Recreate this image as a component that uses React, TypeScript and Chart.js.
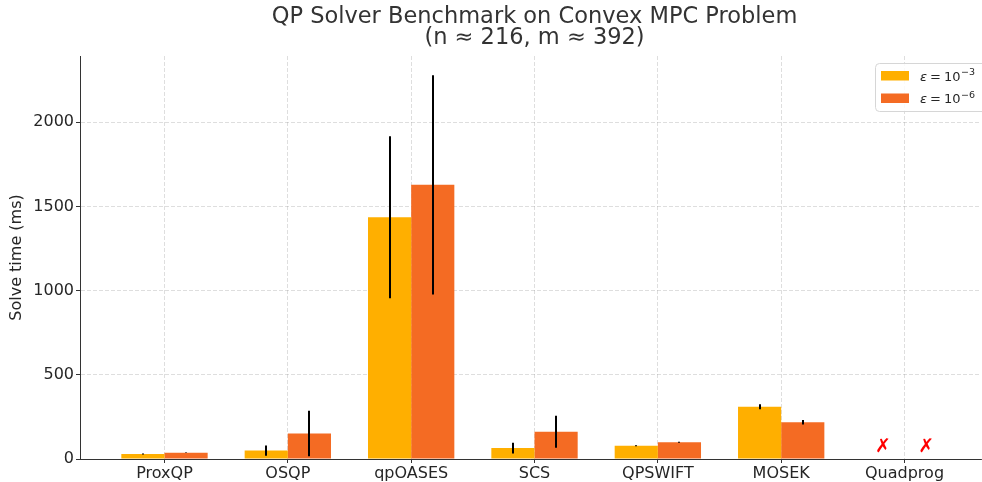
import { useEffect, useRef } from 'react';
import { Chart, registerables } from 'chart.js';

Chart.register(...registerables);

const solvers = ['ProxQP', 'OSQP', 'qpOASES', 'SCS', 'QPSWIFT', 'MOSEK', 'Quadprog'];
const looseTime = [30, 50, 1436, 65, 79, 310, null];
const looseErr = [3, 30, 481, 32, 3, 15, null];
const tightTime = [37, 152, 1628, 162, 99, 218, null];
const tightErr = [2, 135, 651, 95, 3, 13, null];
const legendExponents = ['−3', '−6'];
const failedMark = '✗';
const failedY = 50;
const yTicks = [0, 500, 1000, 1500, 2000];
const yMax = 2393;
const xMin = -0.685;
const xMax = 6.62;
const titleLines = ['QP Solver Benchmark on Convex MPC Problem', '(n ≈ 216, m ≈ 392)'];

const COLORS = ['#FFAF00', '#F46B23'];
const FONT = "'DejaVu Sans', sans-serif";
const TEXT = '#333333';
const GRID = 'rgba(150,150,150,0.4)';

const overlayPlugin = {
  id: 'overlay',
  afterDraw(chart: any) {
    const ctx = chart.ctx;
    const xs = chart.scales.x;
    const ys = chart.scales.y;
    const ca = chart.chartArea;
    ctx.save();

    // error bars
    const errs = [looseErr, tightErr];
    const vals = [looseTime, tightTime];
    ctx.strokeStyle = '#000';
    ctx.lineWidth = 2;
    for (let d = 0; d < 2; d++) {
      const meta = chart.getDatasetMeta(d);
      vals[d].forEach((v, i) => {
        const e = errs[d][i];
        if (v == null || e == null) return;
        const bar = meta.data[i];
        if (!bar) return;
        const x = Math.round(bar.x);
        ctx.beginPath();
        ctx.moveTo(x, ys.getPixelForValue(v + e));
        ctx.lineTo(x, ys.getPixelForValue(v - e));
        ctx.stroke();
      });
    }

    // failed markers
    ctx.fillStyle = '#FF0000';
    ctx.font = `bold 19px ${FONT}`;
    ctx.textAlign = 'center';
    ctx.textBaseline = 'alphabetic';
    looseTime.forEach((v, i) => {
      if (v != null) return;
      [-0.175, 0.175].forEach((off) => {
        ctx.fillText(failedMark, xs.getPixelForValue(i + off), ys.getPixelForValue(failedY) + 1);
      });
    });

    // title
    ctx.fillStyle = TEXT;
    ctx.font = `22.5px ${FONT}`;
    ctx.textAlign = 'center';
    const tx = xs.getPixelForValue((xMin + 6.685) / 2);
    ctx.fillText(titleLines[0], tx, 23);
    ctx.fillText(titleLines[1], tx, 44);

    // legend
    const left = ca.right - 106;
    const top = ca.top + 7;
    const w = 115;
    const h = 48;
    ctx.fillStyle = 'rgba(255,255,255,0.85)';
    ctx.strokeStyle = '#d6d6d6';
    ctx.lineWidth = 1;
    ctx.beginPath();
    (ctx as any).roundRect(left + 0.5, top + 0.5, w, h, 4);
    ctx.fill();
    ctx.stroke();
    const rows = [top + 8, top + 30.5];
    rows.forEach((py, k) => {
      ctx.fillStyle = COLORS[k];
      ctx.fillRect(left + 6, py, 28, 9.5);
      const base = py + 9.5;
      let x = left + 45;
      ctx.fillStyle = '#262626';
      ctx.textAlign = 'left';
      ctx.font = `italic 13px ${FONT}`;
      ctx.fillText('ε', x, base);
      x += ctx.measureText('ε').width + 3;
      ctx.font = `13px ${FONT}`;
      ctx.fillText('=', x, base);
      x += ctx.measureText('=').width + 3;
      ctx.fillText('10', x, base);
      x += ctx.measureText('10').width + 0.5;
      ctx.font = `9.5px ${FONT}`;
      ctx.fillText(legendExponents[k], x, base - 5.5);
    });

    ctx.restore();
  },
};

export default function App() {
  const ref = useRef<HTMLCanvasElement>(null);
  useEffect(() => {
    const canvas = ref.current;
    if (!canvas) return;
    const chart = new Chart(canvas, {
      type: 'bar',
      data: {
        datasets: [
          {
            label: 'eps 1e-3',
            data: solvers.map((_, i) => ({ x: i, y: looseTime[i] })) as any,
            backgroundColor: COLORS[0],
            borderWidth: 0,
          },
          {
            label: 'eps 1e-6',
            data: solvers.map((_, i) => ({ x: i, y: tightTime[i] })) as any,
            backgroundColor: COLORS[1],
            borderWidth: 0,
          },
        ],
      },
      options: {
        responsive: false,
        animation: false,
        events: [],
        categoryPercentage: 0.7,
        barPercentage: 1.0,
        layout: { padding: { top: 56, right: 1, left: 0, bottom: 0 } },
        plugins: {
          legend: { display: false },
          title: { display: false },
          tooltip: { enabled: false },
        },
        scales: {
          x: {
            type: 'linear',
            min: xMin,
            max: xMax,
            offset: false,
            z: 1,
            afterBuildTicks: (axis: any) => {
              axis.ticks = solvers.map((_, i) => ({ value: i }));
            },
            afterFit: (axis: any) => {
              axis.height = 23;
            },
            grid: {
              offset: false,
              color: GRID,
              lineWidth: 0.8,
              drawTicks: true,
              tickLength: 4,
              tickColor: TEXT,
              tickWidth: 1,
              tickBorderDash: [],
            } as any,
            border: { display: true, color: TEXT, width: 1, dash: [4, 2] },
            ticks: {
              autoSkip: false,
              maxRotation: 0,
              padding: 1,
              color: '#262626',
              font: { family: FONT, size: 16 },
              callback: (_v: any, i: number) => solvers[i],
            },
          },
          y: {
            type: 'linear',
            min: 0,
            max: yMax,
            z: 1,
            afterBuildTicks: (axis: any) => {
              axis.ticks = yTicks.map((v) => ({ value: v }));
            },
            afterFit: (axis: any) => {
              axis.width = 80;
            },
            grid: {
              color: GRID,
              lineWidth: 0.8,
              drawTicks: true,
              tickLength: 4,
              tickColor: TEXT,
              tickWidth: 1,
              tickBorderDash: [],
            } as any,
            border: { display: true, color: TEXT, width: 1, dash: [4, 2] },
            ticks: {
              padding: 2,
              color: '#262626',
              font: { family: FONT, size: 16 },
              callback: (v: any) => String(v),
            },
            title: {
              display: true,
              text: 'Solve time (ms)',
              color: '#262626',
              font: { family: FONT, size: 16 },
              padding: { top: 7, bottom: 0 },
            },
          },
        },
      },
      plugins: [overlayPlugin],
    });
    return () => chart.destroy();
  }, []);
  return (
    <div style={{ position: 'fixed', left: 0, top: 0, width: 982, height: 482, background: '#fff' }}>
      <canvas ref={ref} width={982} height={482} style={{ display: 'block' }} />
    </div>
  );
}
